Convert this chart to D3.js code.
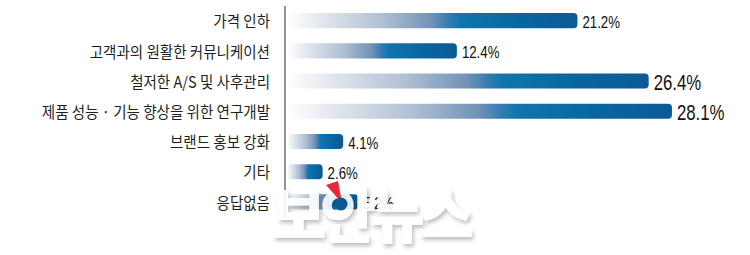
<!DOCTYPE html>
<html>
<head>
<meta charset="utf-8">
<script src="https://cdn.jsdelivr.net/npm/d3@7"></script>
<style>
  html, body { margin: 0; padding: 0; background: #fff; }
  svg { display: block; }
</style>
</head>
<body>
<script>
var width = 750;
var height = 255;

// data
var categories = [
    "가격 인하",
    "고객과의 원활한 커뮤니케이션",
    "철저한 A/S 및 사후관리",
    "제품 성능 · 기능 향상을 위한 연구개발",
    "브랜드 홍보 강화",
    "기타",
    "응답없음"
];
var values = [21.2, 12.4, 26.4, 28.1, 4.1, 2.6, 5.2];
var valueLabels = ["21.2%", "12.4%", "26.4%", "28.1%", "4.1%", "2.6%", "5.2%"];
var bigLabels = [false, false, true, true, false, false, false];

var x0 = 287;
var x = d3.scaleLinear().domain([0, 28.1]).range([x0, x0 + 28.1 * 13.7]);
var y = d3.scaleBand().domain(categories).range([5.5, 217]).paddingInner(0.5).paddingOuter(0.25);

var svg = d3.select("body").append("svg")
    .attr("width", width)
    .attr("height", height);

var defs = svg.append("defs");
var grad = defs.append("linearGradient").attr("id", "barGrad")
    .attr("x1", "0").attr("x2", "1").attr("y1", "0").attr("y2", "0");
[["0%", "#ffffff"], ["12%", "#e2e7ee"], ["33%", "#b0bfd3"], ["50%", "#6f92b6"],
 ["56%", "#2f7bb0"], ["60%", "#0f75ad"], ["80%", "#0966a1"], ["100%", "#0b5a95"]]
    .forEach(function (s) {
        grad.append("stop").attr("offset", s[0]).attr("stop-color", s[1]);
    });

var shadow = defs.append("filter").attr("id", "wmShadow")
    .attr("x", "-10%").attr("y", "-20%").attr("width", "130%").attr("height", "150%");
shadow.append("feGaussianBlur").attr("in", "SourceAlpha").attr("stdDeviation", 2).attr("result", "b");
shadow.append("feOffset").attr("in", "b").attr("dx", 2).attr("dy", 3).attr("result", "o");
shadow.append("feComponentTransfer").attr("in", "o").attr("result", "s")
    .append("feFuncA").attr("type", "linear").attr("slope", 0.28);
var merge = shadow.append("feMerge");
merge.append("feMergeNode").attr("in", "s");
merge.append("feMergeNode").attr("in", "SourceGraphic");

// bars: flat left, rounded right
var bh = y.bandwidth();
function barPath(d, i) {
    var x1 = x0, x2 = x(d), yy = y(categories[i]), r = 4;
    return "M" + x1 + "," + yy +
        "H" + (x2 - r) +
        "Q" + x2 + "," + yy + " " + x2 + "," + (yy + r) +
        "V" + (yy + bh - r) +
        "Q" + x2 + "," + (yy + bh) + " " + (x2 - r) + "," + (yy + bh) +
        "H" + x1 + "Z";
}

svg.selectAll("path.bar").data(values).enter().append("path")
    .attr("class", "bar")
    .attr("d", barPath)
    .attr("fill", "url(#barGrad)");

// axis line
svg.append("line")
    .attr("x1", 285).attr("x2", 285)
    .attr("y1", 6).attr("y2", 218)
    .attr("stroke", "#6f6f6f").attr("stroke-width", 1.5);

// category labels (slightly condensed)
svg.selectAll("text.cat").data(categories).enter().append("text")
    .attr("class", "cat")
    .attr("transform", function (d) {
        return "translate(270," + (y(d) + bh / 2 + 1) + ") scale(0.92,1)";
    })
    .attr("dy", "0.36em")
    .attr("text-anchor", "end")
    .attr("font-family", "'Noto Sans CJK KR', sans-serif")
    .attr("font-size", "15.8px")
    .attr("fill", "#1e1e1e")
    .text(function (d) { return d; });

// value labels (narrow)
svg.selectAll("text.val").data(values).enter().append("text")
    .attr("class", "val")
    .attr("transform", function (d, i) {
        return "translate(" + (x(d) + 5) + "," + (y(categories[i]) + bh / 2 + 1) + ") scale(0.78,1)";
    })
    .attr("dy", "0.36em")
    .attr("font-family", "'Liberation Sans', Arial, sans-serif")
    .attr("font-size", function (d, i) { return bigLabels[i] ? "21.5px" : "17px"; })
    .attr("fill", "#111")
    .text(function (d, i) { return valueLabels[i]; });

// watermark
var wm = svg.append("g").attr("opacity", 0.9);
wm.append("text")
    .attr("x", 271).attr("y", 238)
    .attr("font-family", "'Noto Sans CJK KR', sans-serif")
    .attr("font-weight", 900)
    .attr("font-size", "60px")
    .attr("letter-spacing", "-6px")
    .attr("fill", "#ffffff")
    .attr("filter", "url(#wmShadow)")
    .text("보안뉴스");
svg.append("path")
    .attr("d", "M326,185 L338,181 L342,203 Z")
    .attr("fill", "#e8283a");
svg.append("circle")
    .attr("cx", 341).attr("cy", 204).attr("r", 6.5)
    .attr("fill", "#0b5a92");
</script>
</body>
</html>
